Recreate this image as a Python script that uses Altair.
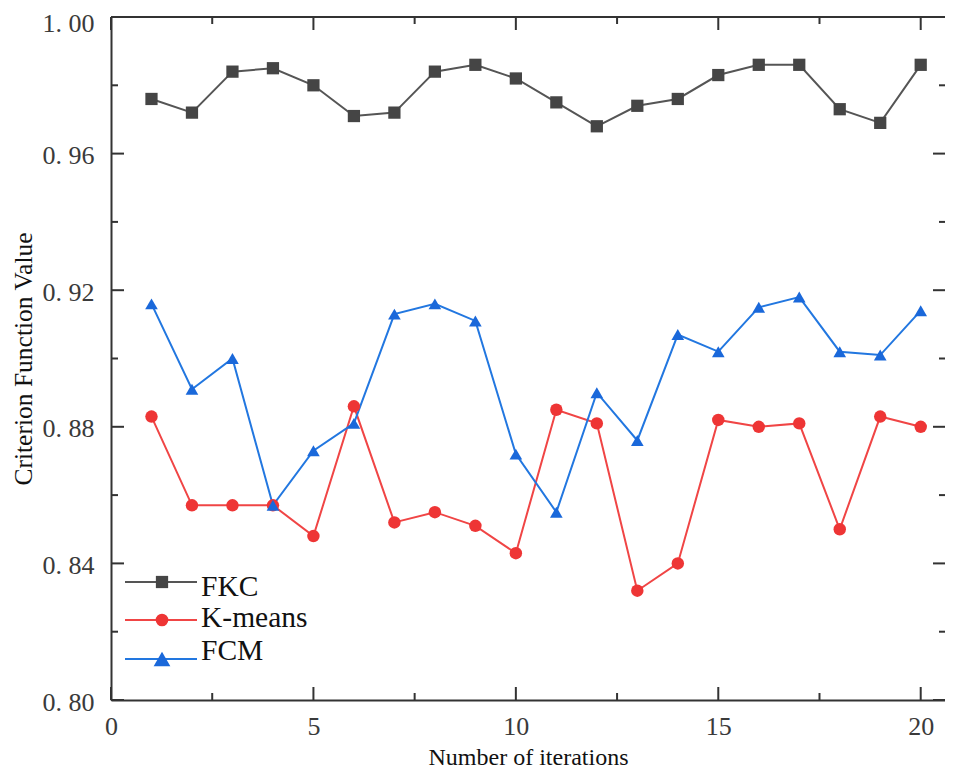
import altair as alt
import pandas as pd

# ---- data ----
iterations = list(range(1, 21))
series_names = ["FKC", "K-means", "FCM"]
fkc = [0.976, 0.972, 0.984, 0.985, 0.980, 0.971, 0.972, 0.984, 0.986, 0.982,
       0.975, 0.968, 0.974, 0.976, 0.983, 0.986, 0.986, 0.973, 0.969, 0.986]
kmeans = [0.883, 0.857, 0.857, 0.857, 0.848, 0.886, 0.852, 0.855, 0.851, 0.843,
          0.885, 0.881, 0.832, 0.840, 0.882, 0.880, 0.881, 0.850, 0.883, 0.880]
fcm = [0.916, 0.891, 0.900, 0.857, 0.873, 0.881, 0.913, 0.916, 0.911, 0.872,
       0.855, 0.890, 0.876, 0.907, 0.902, 0.915, 0.918, 0.902, 0.901, 0.914]

x_major = [0, 5, 10, 15, 20]
x_minor = [2.5, 7.5, 12.5, 17.5]
y_major = [0.80, 0.84, 0.88, 0.92, 0.96, 1.00]
y_minor = [0.82, 0.86, 0.90, 0.94, 0.98]

line_colors = ["#555555", "#f04545", "#2277e0"]
point_colors = ["#454545", "#ee3535", "#1a68da"]
shapes = ["square", "circle", "triangle-up"]
sizes = [150, 160, 280]

W, H = 834, 683
FONT = "Liberation Serif"
AXC = "#333333"

rows = []
for name, vals in zip(series_names, [fkc, kmeans, fcm]):
    for it, v in zip(iterations, vals):
        rows.append({"iteration": it, "value": v, "series": name})
df = pd.DataFrame(rows)

xscale = alt.Scale(domain=[0, 20.6], nice=False, zero=False)
yscale = alt.Scale(domain=[0.80, 1.00], nice=False, zero=False)

base = alt.Chart(df)

lines = base.mark_line(strokeWidth=2).encode(
    x=alt.X("iteration:Q", scale=xscale,
            axis=alt.Axis(values=x_major, ticks=False, grid=False, domainColor=AXC,
                          domainWidth=2, labelFont=FONT, labelFontSize=26,
                          labelColor="#3a3a3a", labelPadding=13, format="d",
                          labelFlush=False, title="Number of iterations",
                          titleFont=FONT, titleFontSize=24, titleFontWeight="normal",
                          titleColor="#111111", titleBaseline="alphabetic",
                          titleY=64)),
    y=alt.Y("value:Q", scale=yscale,
            axis=alt.Axis(values=y_major, ticks=False, grid=False, domainColor=AXC,
                          domainWidth=2, labelFont=FONT, labelFontSize=26,
                          labelColor="#3a3a3a", labelPadding=17,
                          labelOffset={"condition": {"test": "datum.value >= 0.999", "value": 6},
                                       "value": 2},
                          labelExpr="replace(format(datum.value, '.2f'), '.', '. ')",
                          labelFlush=False, title="Criterion Function Value",
                          titleFont=FONT, titleFontSize=25.5, titleFontWeight="normal",
                          titleColor="#111111", titlePadding=6)),
    color=alt.Color("series:N", scale=alt.Scale(domain=series_names, range=line_colors),
                    legend=None),
    detail="series:N",
)

points = base.mark_point(filled=True, opacity=1).encode(
    x=alt.X("iteration:Q", scale=xscale),
    y=alt.Y("value:Q", scale=yscale),
    fill=alt.Fill("series:N", scale=alt.Scale(domain=series_names, range=point_colors),
                  legend=None),
    shape=alt.Shape("series:N", scale=alt.Scale(domain=series_names, range=shapes),
                    legend=None),
    size=alt.Size("series:N", scale=alt.Scale(domain=series_names, range=sizes),
                  legend=None),
)

# top frame line (the right side of the frame lies beyond the reference's crop)
frame_top = alt.Chart(pd.DataFrame({"f": [0]})).mark_rule(color=AXC, strokeWidth=2).encode(
    x=alt.value(0), x2=alt.value(W), y=alt.value(0))

# inward tick marks on all four sides
def xticks(vals, length):
    d = pd.DataFrame({"t": vals})
    bottom = alt.Chart(d).mark_rule(color=AXC, strokeWidth=2).encode(
        x=alt.X("t:Q", scale=xscale), y=alt.value(H), y2=alt.value(H - length))
    top = alt.Chart(d).mark_rule(color=AXC, strokeWidth=2).encode(
        x=alt.X("t:Q", scale=xscale), y=alt.value(0), y2=alt.value(length))
    return [bottom, top]

def yticks(vals, length):
    d = pd.DataFrame({"t": vals})
    left = alt.Chart(d).mark_rule(color=AXC, strokeWidth=2).encode(
        y=alt.Y("t:Q", scale=yscale), x=alt.value(0), x2=alt.value(length))
    right = alt.Chart(d).mark_rule(color=AXC, strokeWidth=2).encode(
        y=alt.Y("t:Q", scale=yscale), x=alt.value(W + 1), x2=alt.value(W + 1 - length))
    return [left, right]

tick_layers = (xticks(x_major, 13) + xticks(x_minor, 7) +
               yticks(y_major, 13) + yticks(y_minor, 7))

# legend (line + marker + label) in the lower-left
legend_layers = []
leg_line_y = [565, 603, 642]
leg_text_y = [579, 610, 643]
for i, name in enumerate(series_names):
    d = pd.DataFrame({"series": [name]})
    legend_layers.append(alt.Chart(d).mark_rule(color=line_colors[i], strokeWidth=2).encode(
        x=alt.value(14), x2=alt.value(86), y=alt.value(leg_line_y[i])))
    legend_layers.append(alt.Chart(d).mark_point(
        filled=True, opacity=1, shape=shapes[i], size=sizes[i], color=point_colors[i]).encode(
        x=alt.value(51), y=alt.value(leg_line_y[i])))
    legend_layers.append(alt.Chart(d).mark_text(
        font=FONT, fontSize=29.5, align="left", baseline="alphabetic", color="#111111").encode(
        x=alt.value(90), y=alt.value(leg_text_y[i]), text="series:N"))

chart = alt.layer(lines, points, frame_top, *tick_layers, *legend_layers).properties(
    width=W, height=H,
    autosize=alt.AutoSizeParams(type="none"),
    padding={"left": 103, "top": 9, "right": 0, "bottom": 70},
).configure_view(strokeWidth=0).configure(background="white")

chart.save("out.html", embed_options={"renderer": "svg", "actions": False})
